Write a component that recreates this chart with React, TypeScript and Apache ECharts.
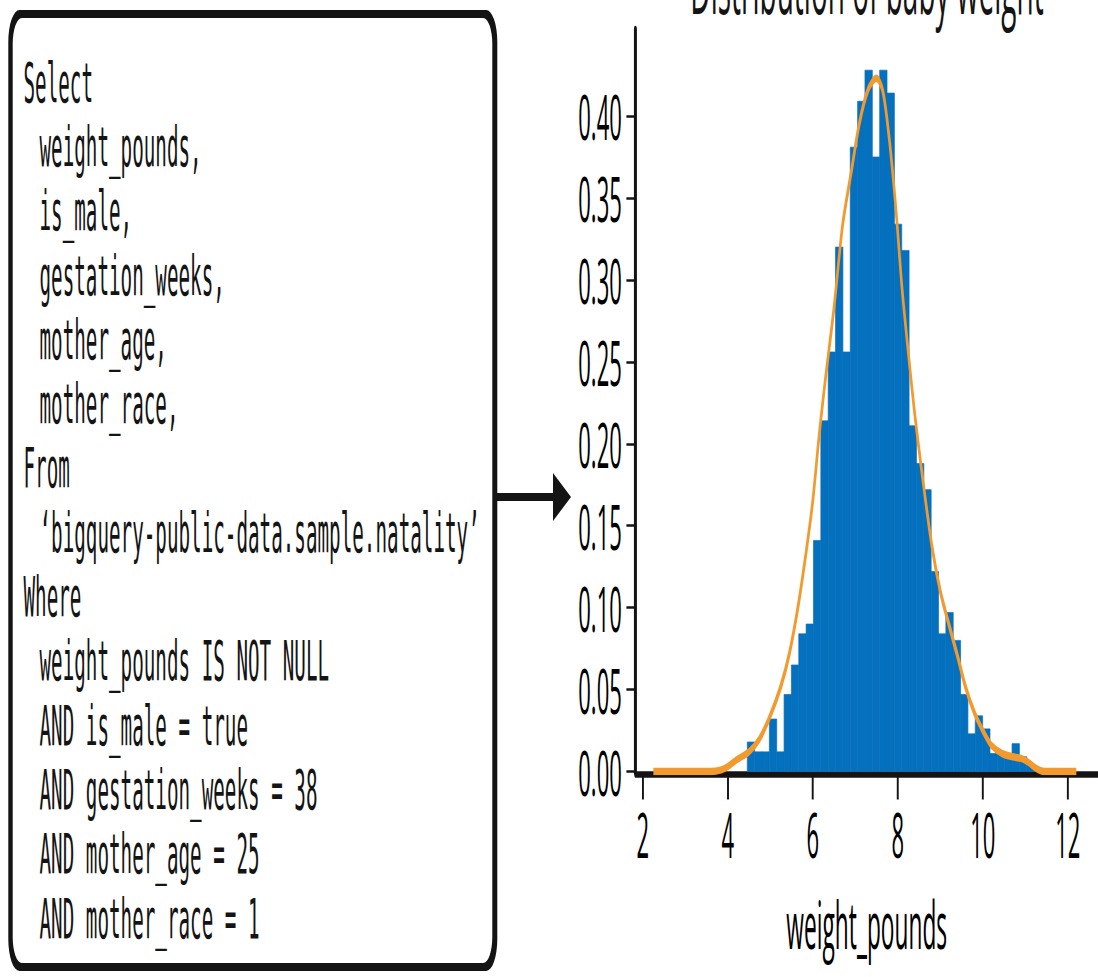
import React, { useEffect, useRef } from 'react';
import * as echarts from 'echarts';

// horizontal squish of the whole picture (drawn wide, then scaled by CSS)
const S = 0.35;
const W = 1098 / S;
const H = 977;
const ux = (x: number) => x / S;

const codeLines = [
  'Select',
  'weight_pounds,',
  'is_male,',
  'gestation_weeks,',
  'mother_age,',
  'mother_race,',
  'From',
  '\u2018bigquery-public-data.sample.natality\u2019',
  'Where',
  'weight_pounds IS NOT NULL',
  'AND is_male = true',
  'AND gestation_weeks = 38',
  'AND mother_age = 25',
  'AND mother_race = 1',
];
const codeIndent = [0, 1, 1, 1, 1, 1, 0, 1, 0, 1, 1, 1, 1, 1];

const titleText = 'Distribution of baby weight';
const xName = 'weight_pounds';

const binLefts = [
  4.46, 4.633, 4.806, 4.979, 5.152, 5.325, 5.498, 5.671, 5.844, 6.017,
  6.19, 6.363, 6.536, 6.709, 6.882, 7.055, 7.228, 7.401, 7.574, 7.747,
  7.92, 8.093, 8.266, 8.439, 8.612, 8.785, 8.958, 9.131, 9.304, 9.477,
  9.65, 9.823, 9.996, 10.169, 10.342, 10.515, 10.688, 10.861, 11.034,
];
const binWidth = 0.173;
const density = [
  0.018, 0.012, 0.012, 0.032, 0.012, 0.047, 0.065, 0.084, 0.090, 0.141,
  0.214, 0.256, 0.320, 0.256, 0.381, 0.409, 0.428, 0.375, 0.428, 0.414,
  0.334, 0.318, 0.211, 0.188, 0.172, 0.122, 0.084, 0.097, 0.080, 0.047,
  0.023, 0.034, 0.026, 0.011, 0.011, 0.011, 0.017, 0.009, 0.004,
];

const kdeX = [
  2.25, 3.0, 3.6, 3.85, 4.0, 4.2, 4.5, 4.75, 5.0, 5.25, 5.45, 5.65, 5.85, 6.0,
  6.15, 6.3, 6.5, 6.7, 6.9, 7.1, 7.3, 7.5, 7.65, 7.8, 7.95, 8.1, 8.25, 8.4,
  8.6, 8.8, 9.0, 9.2, 9.4, 9.6, 9.8, 10.0, 10.2, 10.45, 10.7, 10.9, 11.05,
  11.25, 11.45, 12.2,
];
const kdeY = [
  0, 0, 0, 0.001, 0.003, 0.007, 0.012, 0.02, 0.034, 0.052, 0.072, 0.1, 0.135,
  0.165, 0.205, 0.24, 0.283, 0.333, 0.365, 0.396, 0.416, 0.423, 0.415, 0.386,
  0.345, 0.295, 0.255, 0.218, 0.176, 0.138, 0.11, 0.09, 0.071, 0.051, 0.036,
  0.025, 0.016, 0.011, 0.009, 0.008, 0.006, 0.002, 0, 0,
];

const xTicks = [2, 4, 6, 8, 10, 12];
const yTicks = [0, 0.05, 0.1, 0.15, 0.2, 0.25, 0.3, 0.35, 0.4];
const X_MIN = 1.83;
const X_MAX = 12.71;
const Y_MAX = 0.4525;

const BLUE = '#0570bd';
const ORANGE = '#f29a2e';
const INK = '#141414';

export default function App() {
  const ref = useRef<HTMLDivElement>(null);

  useEffect(() => {
    if (!ref.current) return;
    const chart = echarts.init(ref.current, null, { renderer: 'svg', width: W, height: H });

    const codeFont = 55;
    const codeElems = codeLines.map((t, i) => {
      const baseline = 102 + 64.3 * i;
      return {
        type: 'text',
        x: ux(codeIndent[i] ? 39.5 : 23.5),
        y: baseline - 0.346 * codeFont,
        style: {
          text: t,
          fontSize: codeFont,
          fontFamily: 'DejaVu Sans Mono',
          fill: INK,
          align: 'left',
          verticalAlign: 'middle',
        },
      };
    });

    const titleFont = 80;

    const option: any = {
      animation: false,
      backgroundColor: '#ffffff',
      grid: { left: ux(635.5), right: 0, top: 30, bottom: H - 771.5, containLabel: false },
      xAxis: {
        type: 'value',
        min: X_MIN,
        max: X_MAX,
        offset: 3,
        splitLine: { show: false },
        axisLine: { show: true, onZero: false, lineStyle: { color: INK, width: 6.5 } },
        axisTick: { show: true, customValues: xTicks, length: 25, lineStyle: { color: INK, width: 5.5 } },
        axisLabel: {
          customValues: xTicks,
          fontSize: 63,
          fontFamily: 'Open Sans',
          color: '#000',
          margin: 28,
        },
        name: xName,
        nameLocation: 'middle',
        nameGap: 117,
        nameTextStyle: { fontSize: 65, fontFamily: 'Open Sans', color: '#000' },
      },
      yAxis: {
        type: 'value',
        min: 0,
        max: Y_MAX,
        splitLine: { show: false },
        axisLine: { show: true, lineStyle: { color: INK, width: 8.6 } },
        axisTick: { show: true, customValues: yTicks, length: 26, lineStyle: { color: INK, width: 2.5 } },
        axisLabel: {
          customValues: yTicks,
          fontSize: 63,
          fontFamily: 'Open Sans',
          color: '#000',
          margin: 39,
          formatter: (v: number) => v.toFixed(2),
        },
      },
      series: [
        {
          type: 'custom',
          z: 2,
          data: binLefts.map((l, i) => [l, l + binWidth, density[i]]),
          encode: { x: [0, 1], y: 2 },
          renderItem: (params: any, api: any) => {
            const p0 = api.coord([api.value(0), api.value(2)]);
            const p1 = api.coord([api.value(1), 0]);
            return {
              type: 'rect',
              shape: { x: p0[0], y: p0[1], width: p1[0] - p0[0], height: p1[1] - p0[1] },
              style: { fill: BLUE, stroke: BLUE, lineWidth: 1 },
            };
          },
        },
        {
          type: 'line',
          z: 3,
          data: kdeX.map((x, i) => [x, kdeY[i]]),
          smooth: 0.3,
          showSymbol: false,
          symbol: 'none',
          lineStyle: { color: ORANGE, width: 7.5 },
        },
      ],
      graphic: {
        elements: [
          {
            type: 'rect',
            shape: { x: ux(8.3), y: 10, width: ux(497.3) - ux(8.3), height: 961, r: 32 },
            style: { fill: INK },
          },
          {
            type: 'rect',
            shape: { x: ux(12.7), y: 18, width: ux(492.3) - ux(12.7), height: 945, r: 26 },
            style: { fill: '#ffffff' },
          },
          ...codeElems,
          {
            type: 'rect',
            shape: { x: ux(493), y: 493, width: ux(556) - ux(493), height: 8 },
            style: { fill: INK },
          },
          {
            type: 'polygon',
            shape: { points: [[ux(553), 473], [ux(571), 497], [ux(553), 521]] },
            style: { fill: INK },
          },
          {
            type: 'text',
            x: ux(867),
            y: 14 - 0.388 * titleFont,
            style: {
              text: titleText,
              fontSize: titleFont,
              fontFamily: 'Open Sans',
              fill: INK,
              align: 'center',
              verticalAlign: 'middle',
            },
          },
        ],
      },
    };

    chart.setOption(option);
    return () => chart.dispose();
  }, []);

  return (
    <div
      style={{
        position: 'fixed',
        left: 0,
        top: 0,
        width: W,
        height: H,
        transform: `scaleX(${S})`,
        transformOrigin: '0 0',
        background: '#fff',
      }}
    >
      <div ref={ref} style={{ width: W, height: H }} />
    </div>
  );
}
